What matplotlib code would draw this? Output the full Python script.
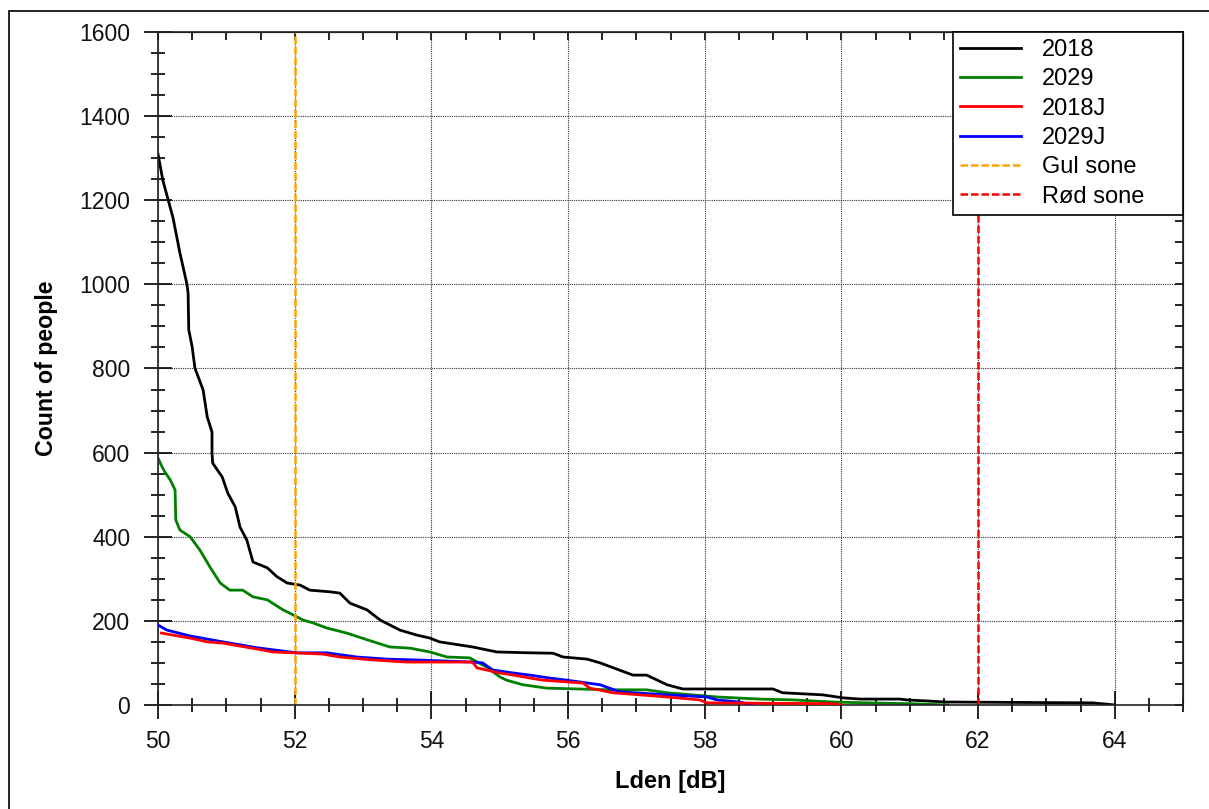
import numpy as np
import matplotlib
matplotlib.use('Agg')
import matplotlib.pyplot as plt
from matplotlib.ticker import MultipleLocator
from matplotlib.patches import Rectangle

plt.rcParams['font.family'] = ['Liberation Sans', 'DejaVu Sans']

# Lden [dB] / count of people
x_2018 = [50.0, 50.07, 50.15, 50.22, 50.32, 50.42, 50.44, 50.45, 50.5, 50.54, 50.66, 50.72,
          50.79, 50.79, 50.8, 50.94, 51.02, 51.13, 51.2, 51.3, 51.39, 51.6, 51.74, 51.89, 52.08,
          52.22, 52.52, 52.66, 52.81, 53.06, 53.25, 53.54, 53.79, 53.98, 54.12, 54.6, 54.96,
          55.44, 55.78, 55.93, 56.28, 56.47, 56.95, 57.15, 57.45, 57.68, 59.0, 59.14, 59.73,
          60.02, 60.27, 60.85, 60.96, 61.54, 63.68, 64.0]
y_2018 = [1310, 1248, 1200, 1158, 1075, 1003, 980, 892, 851, 801, 749, 685,
          649, 599, 575, 542, 504, 471, 423, 392, 340, 326, 305, 290, 285,
          273, 269, 266, 242, 226, 202, 178, 166, 159, 150, 138, 126,
          124, 123, 114, 109, 100, 71, 71, 48, 38, 38, 29, 24,
          17, 14, 14, 12, 7, 5, 0]

x_2029 = [50.0, 50.06, 50.1, 50.18, 50.25, 50.26, 50.32, 50.47, 50.61, 50.76, 50.91, 51.05,
          51.24, 51.39, 51.6, 51.83, 51.98, 52.12, 52.27, 52.47, 52.76, 53.06, 53.39, 53.69,
          53.98, 54.23, 54.56, 54.81, 55.0, 55.1, 55.34, 55.69, 56.61, 57.15, 57.45, 58.18,
          58.81, 59.29, 59.87, 60.37, 61.0, 61.56]
y_2029 = [587, 566, 554, 535, 511, 440, 416, 400, 369, 328, 290, 273,
          273, 257, 250, 226, 214, 202, 195, 183, 171, 155, 138, 135,
          126, 114, 112, 90, 67, 59, 48, 40, 36, 36, 29, 19,
          14, 12, 7, 5, 3, 0]

x_2018j = [50.05, 50.22, 50.47, 50.72, 50.95, 51.2, 51.45, 51.68, 51.98, 52.41, 52.66, 53.15,
           53.64, 54.6, 54.67, 54.81, 55.0, 55.2, 55.44, 55.63, 56.22, 56.32, 56.66, 57.45,
           57.93, 58.03, 59.87, 60.0]
y_2018j = [171, 166, 159, 150, 147, 140, 133, 126, 124, 121, 114, 107,
           102, 102, 88, 83, 76, 71, 64, 59, 52, 40, 29, 19,
           12, 5, 3, 0]

x_2029j = [50.0, 50.13, 50.47, 50.95, 51.45, 52.03, 52.47, 52.91, 53.35, 53.79, 54.6, 54.75,
           54.9, 55.2, 55.44, 55.73, 55.98, 56.47, 56.76, 57.45, 58.03, 58.18, 58.51, 58.7]
y_2029j = [190, 178, 164, 150, 136, 124, 124, 114, 109, 107, 102, 100,
           83, 76, 71, 64, 59, 48, 31, 24, 19, 12, 7, 0]

gul_sone = 52
rod_sone = 62

fig = plt.figure(figsize=(12.09, 8.09), dpi=100)
ax = fig.add_axes([0.1307, 0.1286, 0.8478, 0.8318])

# outer frame around the figure
fig.patches.append(Rectangle((0.0074, -0.1), 1.2, 1.0861, transform=fig.transFigure,
                             fill=False, edgecolor='black', linewidth=1.2))

ax.plot(x_2018, y_2018, color='black', lw=2.0, label='2018')
ax.plot(x_2029, y_2029, color='green', lw=2.0, label='2029')
ax.plot(x_2018j, y_2018j, color='red', lw=2.0, label='2018J', zorder=3)
ax.plot(x_2029j, y_2029j, color='blue', lw=2.0, label='2029J', zorder=2.9)
ax.axvline(gul_sone, color='orange', ls=(0, (3, 1.2)), lw=1.8, label='Gul sone')
ax.axvline(rod_sone, color='red', ls=(0, (3, 1.2)), lw=1.8, label='Rød sone')

ax.set_xlim(50, 65)
ax.set_ylim(0, 1600)
ax.xaxis.set_major_locator(MultipleLocator(2))
ax.xaxis.set_minor_locator(MultipleLocator(0.5))
ax.yaxis.set_major_locator(MultipleLocator(200))
ax.yaxis.set_minor_locator(MultipleLocator(50))
ax.set_xticks([50, 52, 54, 56, 58, 60, 62, 64])

ax.grid(True, which='major', color='#333333', ls=(0, (1, 1)), lw=0.8)
ax.tick_params(which='major', direction='inout', length=20, width=1.2, labelsize=16.5,
               labelcolor='#111111')
ax.tick_params(which='minor', direction='inout', length=10, width=1.2)
ax.tick_params(axis='y', pad=10)
ax.tick_params(axis='x', pad=8)
for s in ax.spines.values():
    s.set_linewidth(1.2)
    s.set_color('#222222')

# inward ticks on top and right
top = ax.secondary_xaxis('top')
top.xaxis.set_major_locator(MultipleLocator(2))
top.xaxis.set_minor_locator(MultipleLocator(0.5))
top.tick_params(which='both', direction='in', labeltop=False, length=6, width=1.2)
right = ax.secondary_yaxis('right')
right.yaxis.set_major_locator(MultipleLocator(200))
right.yaxis.set_minor_locator(MultipleLocator(50))
right.tick_params(which='both', direction='in', labelright=False, length=6, width=1.2)

ax.set_xlabel('Lden [dB]', fontsize=17, fontweight='bold', labelpad=12)
ax.set_ylabel('Count of people', fontsize=16.7, fontweight='bold', labelpad=15)

leg = ax.legend(loc='upper left', bbox_to_anchor=(0.7756, 0.0, 0.2244, 1.0), mode='expand',
                fontsize=17, frameon=True, fancybox=False, borderaxespad=0.0,
                handlelength=2.6, handletextpad=0.85, labelspacing=0.31,
                framealpha=1, borderpad=0.3)
leg.get_frame().set_edgecolor('black')
leg.get_frame().set_linewidth(1.2)

fig.savefig('out.png', dpi=100)
